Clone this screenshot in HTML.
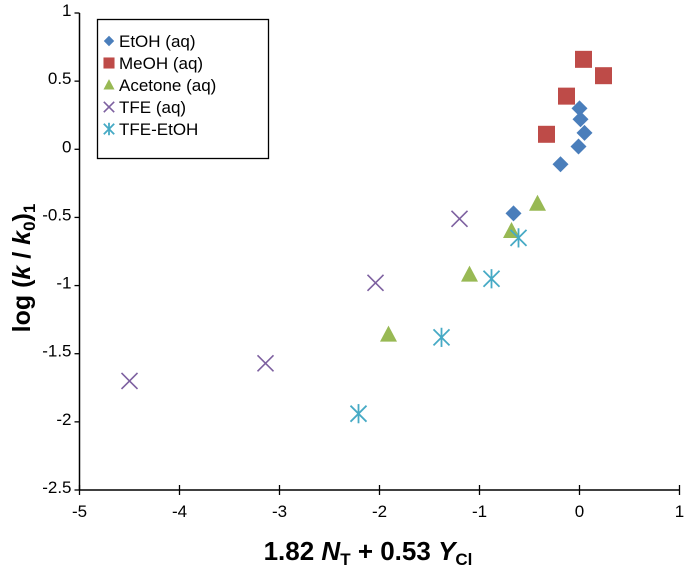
<!DOCTYPE html>
<html><head><meta charset="utf-8"><style>
html,body{margin:0;padding:0;background:#fff;}
svg{display:block;font-family:"Liberation Sans",Arial,sans-serif;}
</style></head><body>
<svg id="chart" width="688" height="570" viewBox="0 0 688 570">
<g id="axes"></g>
<g id="marks"></g>
<g id="legend"></g>
<text x="368" y="560" text-anchor="middle" font-size="26" font-weight="bold">1.82 <tspan font-style="italic">N</tspan><tspan font-size="17" dy="5">T</tspan><tspan dy="-5"> + 0.53 </tspan><tspan font-style="italic">Y</tspan><tspan font-size="17" dy="5">Cl</tspan></text>
<text transform="translate(30,268) rotate(-90)" text-anchor="middle" font-size="25" font-weight="bold">log (<tspan font-style="italic">k</tspan> / <tspan font-style="italic">k</tspan><tspan font-size="17" dy="5">0</tspan><tspan dy="-5">)</tspan><tspan font-size="17" dy="5">1</tspan></text>
</svg>
<script>
const xTicks=[-5,-4,-3,-2,-1,0,1];
const yTicks=[1,0.5,0,-0.5,-1,-1.5,-2,-2.5];
const seriesNames=["EtOH (aq)","MeOH (aq)","Acetone (aq)","TFE (aq)","TFE-EtOH"];
const etohX=[0.0,0.01,0.05,-0.01,-0.19,-0.66];
const etohY=[0.30,0.22,0.12,0.02,-0.11,-0.47];
const meohX=[0.04,0.24,-0.13,-0.33];
const meohY=[0.66,0.54,0.39,0.11];
const acetoneX=[-0.42,-0.68,-1.10,-1.91];
const acetoneY=[-0.40,-0.60,-0.92,-1.36];
const tfeX=[-4.50,-3.14,-2.04,-1.20];
const tfeY=[-1.70,-1.57,-0.98,-0.51];
const tfeEtohX=[-0.61,-0.88,-1.38,-2.21];
const tfeEtohY=[-0.65,-0.95,-1.38,-1.94];

const NS="http://www.w3.org/2000/svg";
const X0=79.5,X1=679.5,Y0=13,Y1=490;
function sx(v){return X0+(v+5)/6*(X1-X0);}
function sy(v){return Y0+(1-v)/3.5*(Y1-Y0);}
function mk(tag,attrs,parent){const e=document.createElementNS(NS,tag);for(const k in attrs)e.setAttribute(k,attrs[k]);parent.appendChild(e);return e;}
const axes=document.getElementById('axes');
let l=mk('line',{x1:X0,y1:Y0,x2:X0,y2:Y1,stroke:'#000','stroke-width':1.5},axes);


l=mk('line',{x1:X0,y1:Y1,x2:X1,y2:Y1,stroke:'#000','stroke-width':1.5},axes);


xTicks.forEach(t=>{
  const tk=mk('line',{x1:sx(t),y1:Y1-5,x2:sx(t),y2:Y1+5,stroke:'#000','stroke-width':1.3},axes);
  
  
  const tx=mk('text',{x:sx(t),y:Y1+27,'text-anchor':'middle','font-size':17},axes);
  tx.textContent=String(t);
  
  
});
yTicks.forEach(t=>{
  const tk=mk('line',{x1:X0-5,y1:sy(t),x2:X0,y2:sy(t),stroke:'#000','stroke-width':1.3},axes);
  
  
  const tx=mk('text',{x:X0-8,y:sy(t)+3,'text-anchor':'end','font-size':17},axes);
  tx.textContent=String(t);
  
  
});
function marker(type,cx,cy,g,s){
  if(type===0){return mk('polygon',{points:`${cx},${cy-8*s} ${cx+8*s},${cy} ${cx},${cy+8*s} ${cx-8*s},${cy}`,fill:'#4a7ebb'},g);}
  if(type===1){return mk('rect',{x:cx-8.5*s,y:cy-8.5*s,width:17*s,height:17*s,fill:'#be4b48'},g);}
  if(type===2){return mk('polygon',{points:`${cx},${cy-9*s} ${cx+8.5*s},${cy+7*s} ${cx-8.5*s},${cy+7*s}`,fill:'#98b954'},g);}
  if(type===3){const gg=mk('g',{stroke:'#7d60a0','stroke-width':1.6},g);const r=8*s;
    mk('line',{x1:cx-r,y1:cy-r,x2:cx+r,y2:cy+r},gg);mk('line',{x1:cx-r,y1:cy+r,x2:cx+r,y2:cy-r},gg);return gg;}
  const gg=mk('g',{stroke:'#46aac5','stroke-width':1.8},g);const r=8*s;
  mk('line',{x1:cx-r,y1:cy-r,x2:cx+r,y2:cy+r},gg);mk('line',{x1:cx-r,y1:cy+r,x2:cx+r,y2:cy-r},gg);mk('line',{x1:cx,y1:cy-r*1.2,x2:cx,y2:cy+r*1.2},gg);return gg;
}
const marks=document.getElementById('marks');
const all=[[etohX,etohY],[meohX,meohY],[acetoneX,acetoneY],[tfeX,tfeY],[tfeEtohX,tfeEtohY]];
const names=['etoh-point','meoh-point','acetone-point','tfe-point','tfe-etoh-point'];
[1,0,2,3,4].forEach(si=>{
  const [xs,ys]=all[si];
  xs.forEach((x,i)=>{
    const m=marker(si,sx(x),sy(ys[i]),marks,1);
    
    
  });
});
const lg=document.getElementById('legend');
const box=mk('rect',{x:97.5,y:19.5,width:171,height:139,fill:'#fff',stroke:'#000','stroke-width':1.3},lg);


seriesNames.forEach((n,i)=>{
  const cy=41+i*22;
  const m=marker(i,109,cy,lg,0.65);
  
  
  const t=mk('text',{x:119,y:cy+6,'font-size':17},lg);
  t.textContent=n;
  
  
});
</script>
</body></html>
